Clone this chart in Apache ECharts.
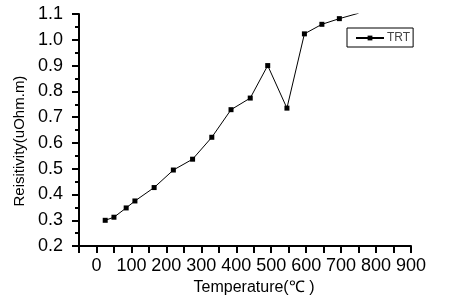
<!DOCTYPE html>
<html>
<head>
<meta charset="utf-8">
<script src="https://cdn.jsdelivr.net/npm/echarts@6/dist/echarts.min.js"></script>
<style>html,body{margin:0;padding:0;background:#fff}#c{width:458px;height:301px}</style>
</head>
<body>
<div id="c"></div>
<script>
var temperature = [25, 50, 85, 110, 165, 220, 275, 330, 385, 440, 490, 545, 595, 645, 695, 750];
var resistivity = [0.300, 0.312, 0.348, 0.375, 0.427, 0.495, 0.537, 0.622, 0.729, 0.774, 0.900, 0.735, 1.023, 1.060, 1.082, 1.103];
var seriesName = 'TRT';
var xTitle = 'Temperature(\u2103 )';
var yTitle = 'Reisitivity(uOhm.m)';

var data = temperature.map(function (t, i) { return [t, resistivity[i]]; });
var font = '"Liberation Sans", Arial, sans-serif';
var chart = echarts.init(document.getElementById('c'), null, {renderer: 'canvas'});
chart.setOption({
  animation: false,
  backgroundColor: '#fff',
  grid: {left: 79, right: 47, top: 14, bottom: 54, containLabel: false},
  legend: {
    data: [seriesName],
    left: 347, top: 28,
    orient: 'vertical',
    borderColor: '#000', borderWidth: 1,
    padding: [4, 3, 3, 8],
    itemWidth: 28, itemHeight: 6,
    itemGap: 0,
    textStyle: {fontFamily: font, fontSize: 12, color: '#444', padding: [0, 0, 0, -2], lineHeight: 12}
  },
  xAxis: {
    type: 'value', min: -50, max: 900, interval: 50,
    name: xTitle, nameLocation: 'middle', nameGap: 33,
    nameTextStyle: {fontFamily: font, fontSize: 16, color: '#000', padding: [0, 0, 0, 18]},
    axisLine: {show: true, onZero: false, lineStyle: {color: '#000', width: 2}},
    axisTick: {show: true, length: 7, lineStyle: {color: '#000', width: 2}},
    splitLine: {show: false},
    axisLabel: {fontFamily: font, fontSize: 18, color: '#000', margin: 11, showMinLabel: true, showMaxLabel: true,
      formatter: function (v) { return (v < 0 || v % 100 !== 0) ? '' : String(v); }}
  },
  yAxis: {
    type: 'value', min: 0.2, max: 1.1, interval: 0.1,
    name: yTitle, nameLocation: 'middle', nameGap: 52,
    nameTextStyle: {fontFamily: font, fontSize: 15, color: '#000', padding: [0, 22, 0, 0]},
    axisLine: {show: true, onZero: false, lineStyle: {color: '#000', width: 2}},
    axisTick: {show: true, length: 7, lineStyle: {color: '#000', width: 2}},
    minorTick: {show: true, splitNumber: 2, length: 4, lineStyle: {color: '#000', width: 2}},
    splitLine: {show: false},
    axisLabel: {fontFamily: font, fontSize: 18, color: '#000', margin: 16,
      formatter: function (v) { return v.toFixed(1); }}
  },
  series: [{
    name: seriesName,
    type: 'line',
    data: data,
    clip: true,
    symbol: 'rect', symbolSize: 5,
    itemStyle: {color: '#000'},
    lineStyle: {color: '#000', width: 1}
  }]
});
</script>
</body>
</html>
